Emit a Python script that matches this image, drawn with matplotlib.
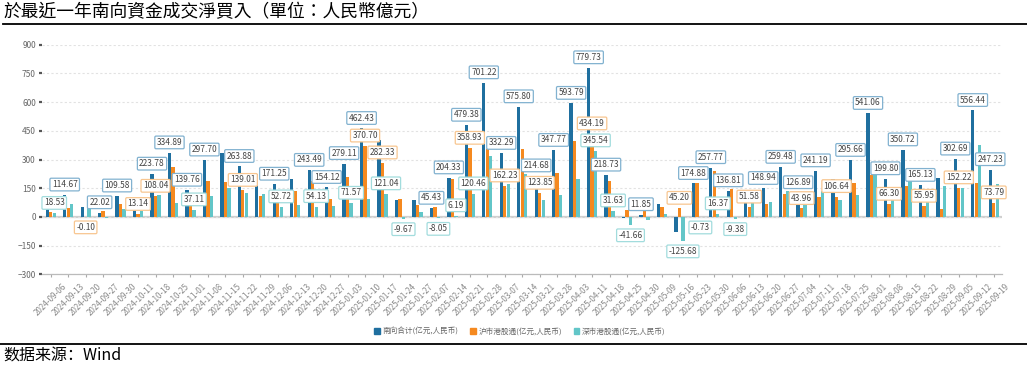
import numpy as np
import matplotlib
matplotlib.use("Agg")
import matplotlib.pyplot as plt
from matplotlib.lines import Line2D
from matplotlib.patches import Patch

plt.rcParams['font.family'] = ['Noto Sans CJK SC', 'DejaVu Sans']

# 周度日期
dates = ['2024-09-06', '2024-09-13', '2024-09-20', '2024-09-27', '2024-09-30',
         '2024-10-11', '2024-10-18', '2024-10-25', '2024-11-01', '2024-11-08',
         '2024-11-15', '2024-11-22', '2024-11-29', '2024-12-06', '2024-12-13',
         '2024-12-20', '2024-12-27', '2025-01-03', '2025-01-10', '2025-01-17',
         '2025-01-24', '2025-01-27', '2025-02-07', '2025-02-14', '2025-02-21',
         '2025-02-28', '2025-03-07', '2025-03-14', '2025-03-21', '2025-03-28',
         '2025-04-03', '2025-04-11', '2025-04-18', '2025-04-25', '2025-04-30',
         '2025-05-09', '2025-05-16', '2025-05-23', '2025-05-30', '2025-06-06',
         '2025-06-13', '2025-06-20', '2025-06-27', '2025-07-04', '2025-07-11',
         '2025-07-18', '2025-07-25', '2025-08-01', '2025-08-08', '2025-08-15',
         '2025-08-22', '2025-08-29', '2025-09-05', '2025-09-12', '2025-09-19']

# 南向合计
south_total = [45, 114.67, 52, 22.02, 109.58, 43, 223.78, 334.89, 139.76, 297.70,
               333, 263.88, 226, 171.25, 197, 243.49, 154.12, 279.11, 462.43, 403.37,
               86.3, 86, 45.43, 204.33, 479.38, 701.22, 332.29, 575.80, 214.68, 347.77,
               593.79, 779.73, 218.73, -4.66, 11.85, 66, -80.48, 174.88, 257.77, 136.81,
               129.6, 148.94, 259.48, 126.89, 241.19, 196.64, 295.66, 541.06, 199.80, 350.72,
               165.13, 204, 302.69, 556.44, 247.23]
# 沪市港股通
sh_connect = [26.5, 49, -0.10, 30, 70, 13.14, 108.04, 262, 102.65, 190,
              183, 139.01, 107, 118.53, 136, 189.36, 96, 207.54, 370.70, 282.33,
              96, 60, 53.48, 198.14, 358.93, 355, 162.23, 353, 123.85, 231,
              395, 434.19, 187.1, 37, 30, 52, 45.20, 175.61, 241.4, 146.19,
              51.58, 70, 122, 43.96, 105, 106.64, 179, 220, 66.30, 160,
              55.95, 40, 152.22, 178, 73.79]
# 深市港股通
sz_connect = [18.53, 65.67, 52.1, -8, 39.58, 30, 115.74, 72.89, 37.11, 107.7,
              150, 124.87, 119, 52.72, 61, 54.13, 58.12, 71.57, 91.73, 121.04,
              -9.67, 26, -8.05, 6.19, 120.46, 320, 170.06, 222.8, 90.83, 116.77,
              198.79, 345.54, 31.63, -41.66, -18.15, 14, -125.68, -0.73, 16.37, -9.38,
              78, 78.94, 137.48, 82.93, 136.19, 90, 116.66, 222, 133.5, 190.72,
              109.18, 164, 150.47, 378.44, 173.44]

# 图上显示了数据标签的点
label_total = [1, 3, 4, 6, 7, 8, 9, 11, 13, 15, 16, 17, 18, 22, 23, 24, 25, 26, 27, 28,
               29, 30, 31, 32, 34, 37, 38, 39, 41, 42, 43, 44, 46, 47, 48, 49, 50, 52, 53, 54]
label_sh = [2, 5, 6, 11, 18, 19, 24, 26, 28, 31, 36, 40, 43, 45, 48, 50, 52, 54]
label_sz = [0, 8, 13, 15, 17, 19, 20, 22, 23, 24, 31, 32, 33, 36, 37, 38, 39]

names = ['南向合计(亿元,人民币)', '沪市港股通(亿元,人民币)', '深市港股通(亿元,人民币)']
colors = ['#1f6f9f', '#f5891f', '#62c6c8']
edges = ['#82b2d0', '#f8c690', '#a2dcdd']

fig = plt.figure(figsize=(10.27, 3.68), dpi=100)
ax = fig.add_axes([0.0409, 0.2546, 0.9352, 0.6239])

x = np.arange(len(dates))
offs = [-0.2, 0.0, 0.2]
series = [south_total, sh_connect, sz_connect]
for s in range(3):
    ax.bar(x + offs[s], series[s], width=0.19, color=colors[s], zorder=2)

ax.set_xlim(-0.5, len(dates) - 0.5)
ax.set_ylim(-300, 900)
ax.set_yticks(range(-300, 901, 150))
ax.yaxis.grid(True, linestyle=(0, (2, 2)), color='#e2e2e2', lw=0.8, zorder=0)
ax.axhline(0, color='#cfcfcf', lw=1.6, zorder=1)
for sp in ['top', 'right', 'left']:
    ax.spines[sp].set_visible(False)
ax.spines['bottom'].set_color('#bbbbbb')
ax.spines['bottom'].set_linewidth(0.9)

ax.set_xticks(x)
ax.set_xticklabels(dates, rotation=45, ha='center', fontsize=5.8, color='#888888')
ax.tick_params(axis='x', length=2.5, width=0.8, color='#aaaaaa', pad=3)
ax.tick_params(axis='y', length=2, width=1.6, color='#555555', labelsize=6,
               labelcolor='#666666', pad=2.5)

# 数据标签
for s, idxs in enumerate([label_total, label_sh, label_sz]):
    for i in idxs:
        v = series[s][i]
        ax.annotate(f"{v:.2f}", xy=(i + offs[s], v),
                    xytext=(0, 7.5 if v >= 0 else -7.5), textcoords='offset points',
                    ha='center', va='center', fontsize=6, color='#444444',
                    bbox=dict(boxstyle='round,pad=0.22,rounding_size=0.15',
                              fc='white', ec=edges[s], lw=0.9),
                    zorder=5 + s)

handles = [Patch(color=c) for c in colors]
fig.legend(handles, names, loc='center', bbox_to_anchor=(520 / 1027, 1 - 331.5 / 368),
           ncol=3, frameon=False, fontsize=5.5, handlelength=0.7, handleheight=0.7,
           columnspacing=1.5, handletextpad=0.4, labelcolor='#666666')

fig.text(3 / 1027, 1 - 12.5 / 368, '於最近一年南向資金成交淨買入（單位：人民幣億元）',
         fontsize=12.8, ha='left', va='center', family=['Noto Sans CJK TC', 'DejaVu Sans'])
fig.add_artist(Line2D([0.003, 1], [1 - 23.5 / 368] * 2, color='black', lw=1.3,
                      transform=fig.transFigure))
fig.add_artist(Line2D([0, 1], [1 - 344 / 368] * 2, color='black', lw=1.3,
                      transform=fig.transFigure))
fig.text(3 / 1027, 1 - 356 / 368, '数据来源：Wind', fontsize=11.5, style='italic',
         ha='left', va='center')

fig.savefig('out.png', dpi=100)
